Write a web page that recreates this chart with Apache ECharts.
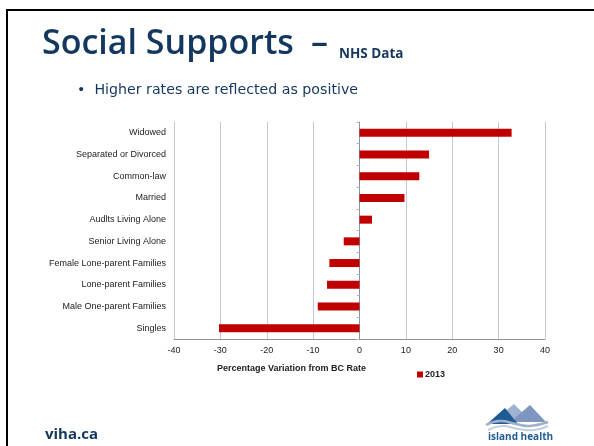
<!DOCTYPE html>
<html>
<head>
<meta charset="utf-8">
<script src="https://cdn.jsdelivr.net/npm/echarts@6/dist/echarts.min.js"></script>
<style>
  html, body { margin: 0; padding: 0; background: #fff; }
  #chart { width: 594px; height: 446px; }
</style>
</head>
<body>
<div id="chart"></div>
<script>
// Categories listed bottom-to-top (category axis runs upward)
const categories = [
  'Singles',
  'Male One-parent Families',
  'Lone-parent Families',
  'Female Lone-parent Families',
  'Senior Living Alone',
  'Audlts Living Alone',
  'Married',
  'Common-law',
  'Separated or Divorced',
  'Widowed'
];
// Percentage variation from BC rate, 2013
const values2013 = [-30.3, -9.0, -7.0, -6.5, -3.4, 2.7, 9.7, 12.9, 15.0, 32.8];
const xTicks = { min: -40, max: 40, interval: 10 };
const seriesName = '2013';
const xAxisTitle = 'Percentage Variation from BC Rate';

const navy = '#14375f';
const axisGrey = '#8a90a6';
const chart = echarts.init(document.getElementById('chart'));

chart.setOption({
  animation: false,
  backgroundColor: '#ffffff',
  textStyle: { fontFamily: 'Liberation Sans, Arial, sans-serif' },
  graphic: [
    // slide frame
    { type: 'rect', shape: { x: 7, y: 10, width: 600, height: 450 },
      style: { fill: 'none', stroke: '#000', lineWidth: 2 } },
    { type: 'text', left: 42, top: 27,
      style: { text: 'Social Supports', font: '600 34px "Open Sans", sans-serif', fill: navy } },
    { type: 'text', left: 311, top: 27,
      style: { text: '–', font: '600 34px "Open Sans", sans-serif', fill: navy } },
    { type: 'text', left: 339, top: 47,
      style: { text: 'NHS Data', font: 'bold 13.5px "Open Sans", sans-serif', fill: navy } },
    { type: 'text', left: 77, top: 83,
      style: { text: '•  Higher rates are reflected as positive', font: '14.2px "DejaVu Sans", sans-serif', fill: navy } },
    { type: 'text', left: 45, top: 427,
      style: { text: 'viha.ca', font: 'bold 15px "Open Sans", sans-serif', fill: navy } },
    // island health logo
    { type: 'polygon', shape: { points: [[497, 418], [514, 404], [528, 418]] }, style: { fill: '#9fb3d1' } },
    { type: 'polygon', shape: { points: [[510, 422], [530, 405], [546, 422]] }, style: { fill: '#7f97c0' } },
    { type: 'polygon', shape: { points: [[487, 424], [505, 408], [518, 424]] }, style: { fill: '#1e5b95' } },
    { type: 'polyline', shape: { points: [[486, 425], [500, 421], [516, 424], [530, 426], [548, 422]], smooth: 0.5 },
      style: { stroke: '#9fb0c8', lineWidth: 2.5, fill: 'none' } },
    { type: 'polyline', shape: { points: [[488, 430], [502, 426], [518, 429], [534, 430], [548, 426]], smooth: 0.5 },
      style: { stroke: '#c3cedf', lineWidth: 2, fill: 'none' } },
    { type: 'text', left: 488, top: 432,
      style: { text: 'island health', font: 'bold 10px "Open Sans", sans-serif', fill: '#1e5b95' } },
    { type: 'text', left: 217, top: 364,
      style: { text: xAxisTitle, font: 'bold 9px "Liberation Sans", Arial, sans-serif', fill: '#222' } }
  ],
  legend: {
    data: [seriesName],
    left: 412, top: 365,
    itemWidth: 6, itemHeight: 6, itemGap: 2,
    icon: 'rect',
    textStyle: { fontSize: 9, fontWeight: 'bold', color: '#222', padding: [0, 0, 0, -3] }
  },
  grid: { left: 174, right: 49, top: 122, bottom: 107, containLabel: false, outerBoundsMode: 'none' },
  xAxis: {
    type: 'value',
    min: xTicks.min, max: xTicks.max, interval: xTicks.interval,
    axisLine: { show: true, lineStyle: { color: axisGrey } },
    axisTick: { show: false },
    axisLabel: { fontSize: 9, color: '#222', margin: 7 },
    splitLine: { show: true, lineStyle: { color: '#c4c8da', width: 1 } }
  },
  yAxis: [
    {
      // category labels along the left edge of the plot
      type: 'category',
      data: categories,
      position: 'left',
      axisLine: { show: true, onZero: false, lineStyle: { color: '#c4c8da' } },
      axisTick: { show: false },
      axisLabel: { fontSize: 9, color: '#222', margin: 8 }
    },
    {
      // zero line with tick marks between categories
      type: 'category',
      data: categories,
      position: 'left',
      axisLine: { show: true, onZero: true, lineStyle: { color: axisGrey } },
      axisTick: { show: true, length: 3, lineStyle: { color: '#b0b4c4' } },
      axisLabel: { show: false }
    }
  ],
  series: [{
    name: seriesName,
    type: 'bar',
    data: values2013,
    barWidth: 8,
    itemStyle: { color: '#c00000' }
  }]
});
</script>
</body>
</html>
